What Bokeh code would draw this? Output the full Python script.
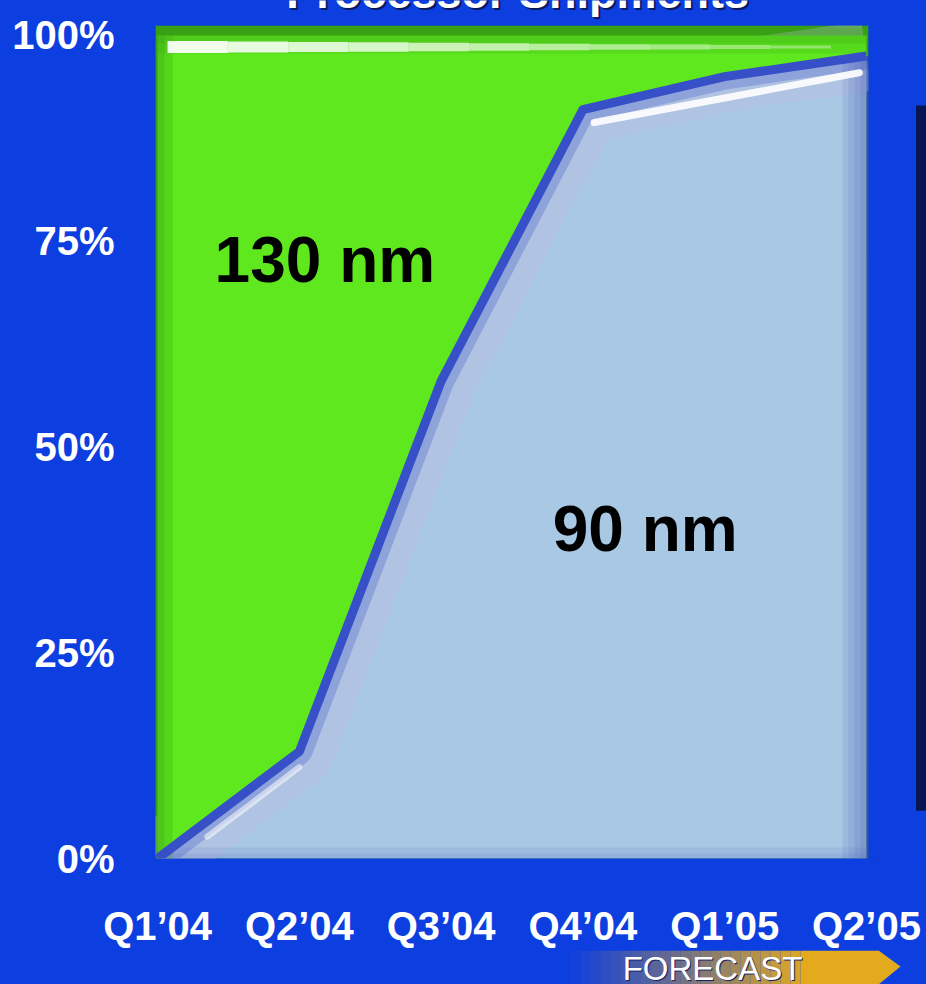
import numpy as np
from bokeh.plotting import figure
from bokeh.layouts import column
from bokeh.models import Label, FixedTicker
from bokeh.core.properties import value
from bokeh.embed import file_html
from bokeh.resources import INLINE

# ---- data -------------------------------------------------------------
quarters = ["Q1\u201904", "Q2\u201904", "Q3\u201904", "Q4\u201904", "Q1\u201905", "Q2\u201905"]
share_90nm = [0, 13, 58, 91, 95, 97.5]        # % of processor shipments
share_130nm = [100, 87, 42, 9, 5, 2.5]        # % of processor shipments
y_ticks = [0, 25, 50, 75, 100]
y_tick_labels = ["0%", "25%", "50%", "75%", "100%"]

x = list(range(len(quarters)))
total = [a + b for a, b in zip(share_90nm, share_130nm)]

# ---- colours / fonts --------------------------------------------------
BG_BLUE = "#0d3ee0"
GREEN = "#5fe81e"
GREEN_DARK = "#37a015"
PALE_BLUE = "#a8c8e4"
EDGE_BLUE = "#3750c8"
GOLD = "#e3aa1e"
FONT = "Liberation Sans"

# ---- box geometry (in axis units) ---------------------------------------
X_START, X_END = -0.015, 5.424          # frame spans from the y labels to the right edge
Y_START, Y_END = 0, 104.25
BOX_LEFT, BOX_RIGHT, BOX_TOP = -0.015, 5.015, 101.2

p = figure(width=926, height=950, x_range=(X_START, X_END), y_range=(Y_START, Y_END),
           output_backend="svg", toolbar_location=None, title=None,
           min_border_left=155, min_border_right=0,
           min_border_top=0, min_border_bottom=92)
p.frame_align = False
p.background_fill_color = BG_BLUE
p.border_fill_color = BG_BLUE
p.outline_line_color = None
p.grid.visible = False

# ---- axes -------------------------------------------------------------
p.xaxis.ticker = FixedTicker(ticks=x)
p.xaxis.major_label_overrides = {i: q for i, q in zip(x, quarters)}
p.yaxis.ticker = FixedTicker(ticks=y_ticks)
p.yaxis.major_label_overrides = {t: s for t, s in zip(y_ticks, y_tick_labels)}
for ax in (p.xaxis, p.yaxis):
    ax.axis_line_color = None
    ax.major_tick_line_color = None
    ax.minor_tick_line_color = None
    ax.major_label_text_color = "white"
    ax.major_label_text_font = FONT
    ax.major_label_text_font_style = "bold"
    ax.major_label_text_font_size = "40px"
p.xaxis.major_label_standoff = 39
p.yaxis.major_label_standoff = 35

# ---- box rim ------------------------------------------------------------
p.quad(left=BOX_LEFT, right=BOX_RIGHT, bottom=0, top=BOX_TOP,
       fill_color=GREEN_DARK, line_color=None)
p.quad(left=x[-1], right=BOX_RIGHT, bottom=0, top=share_90nm[-1],
       fill_color="#3a52b8", line_color=None)

# ---- 90 nm area with soft shading -------------------------------------
p.varea(x=x, y1=0, y2=share_90nm, fill_color=PALE_BLUE)
p.line(x, share_90nm, line_width=70, line_color="#bcbde3", line_alpha=0.45)
p.line(x, share_90nm, line_width=26, line_color="#5d74cf", line_alpha=0.40)
for w in (48, 36, 24, 12):
    p.line([x[-1], x[-1]], [0, share_90nm[-1]], line_width=w,
           line_color="#3048b0", line_alpha=0.10)
for w in (22, 10):
    p.line([x[0], x[-1]], [0, 0], line_width=w, line_color="#4a5fc0", line_alpha=0.12)

# ---- 130 nm area ------------------------------------------------------
p.varea(x=x, y1=share_90nm, y2=total, fill_color=GREEN)
for w in (30, 14):
    p.line([x[0], x[0]], [0, total[0]], line_width=w, line_color=GREEN_DARK, line_alpha=0.25)
for w in (36, 16):
    p.line(x, total, line_width=w, line_color=GREEN_DARK, line_alpha=0.2)

# boundary between the two technologies
p.line(x, share_90nm, line_width=9, line_color=EDGE_BLUE, line_join="round")

# keep the shading inside the box
p.quad(left=BOX_RIGHT, right=X_END, bottom=Y_START, top=Y_END, fill_color=BG_BLUE, line_color=None)
p.quad(left=X_START, right=BOX_RIGHT, bottom=BOX_TOP, top=Y_END, fill_color=BG_BLUE, line_color=None)

# glossy highlights
hx = np.linspace(0.07, 4.75, 12)
top_hl = np.interp(hx, x, total) - 1.4
widths = np.linspace(12, 3, len(hx) - 1)
alphas = np.linspace(0.92, 0.35, len(hx) - 1)
p.segment(x0=hx[:-1], y0=top_hl[:-1], x1=hx[1:], y1=top_hl[1:],
          line_width=widths, line_color="white", line_alpha=alphas, line_cap="butt")


def boundary_glint(xa, xb, alpha, width):
    gx = np.array([xa, xb])
    gy = np.interp(gx, x, share_90nm) - 1.9
    p.line(gx, gy, line_width=width, line_color="white", line_alpha=alpha, line_cap="round")


boundary_glint(0.35, 1.0, 0.55, 6)
boundary_glint(3.08, 4.95, 0.9, 7)

# dark panel at the right edge of the slide
p.quad(left=5.35, right=X_END, bottom=5.8, top=91.5, fill_color="#071650", line_color=None)

# ---- series labels ------------------------------------------------------
for lx, ly, txt in ((1.18, 72.7, "130 nm"), (3.44, 40.0, "90 nm")):
    p.add_layout(Label(x=lx, y=ly, text=txt, text_align="center",
                       text_baseline="alphabetic", text_font=FONT,
                       text_font_style="bold", text_font_size="64px", text_color="black"))

# ---- title (runs off the top edge) --------------------------------------
for dx, dy, col in ((0.014, -0.25, "#0a1a60"), (0, 0, "white")):
    p.add_layout(Label(x=2.54 + dx, y=105.2 + dy, text="Processor Shipments",
                       text_align="center", text_baseline="alphabetic",
                       text_font=FONT, text_font_style="bold",
                       text_font_size="45px", text_color=col))

# ---- forecast banner ----------------------------------------------------
b = figure(width=926, height=34, x_range=(0, 926), y_range=(0, 34),
           output_backend="svg", toolbar_location=None, title=None,
           x_axis_type=None, y_axis_type=None, min_border=0)
b.frame_align = False
b.background_fill_color = BG_BLUE
b.border_fill_color = BG_BLUE
b.outline_line_color = None
b.grid.visible = False

edges = np.linspace(570, 800, 24)
b.quad(left=edges[:-1], right=edges[1:], bottom=0, top=34, fill_color=GOLD,
       fill_alpha=np.linspace(0.03, 0.95, len(edges) - 1), line_color=None)
b.patch([800, 878, 900, 878, 800], [34, 34, 18, 0, 0], fill_color=GOLD, line_color=None)
b.text(x=[713], y=[15], text=["FORECAST"], text_align="center", text_baseline="alphabetic",
       text_font=value(FONT), text_font_size="33px", text_color="#1a2060")
b.text(x=[712], y=[16], text=["FORECAST"], text_align="center", text_baseline="alphabetic",
       text_font=value(FONT), text_font_size="33px", text_color="white")

layout = column(p, b, spacing=0)
layout.styles = {"background-color": BG_BLUE}
open("out.html", "w").write(file_html(layout, INLINE))
